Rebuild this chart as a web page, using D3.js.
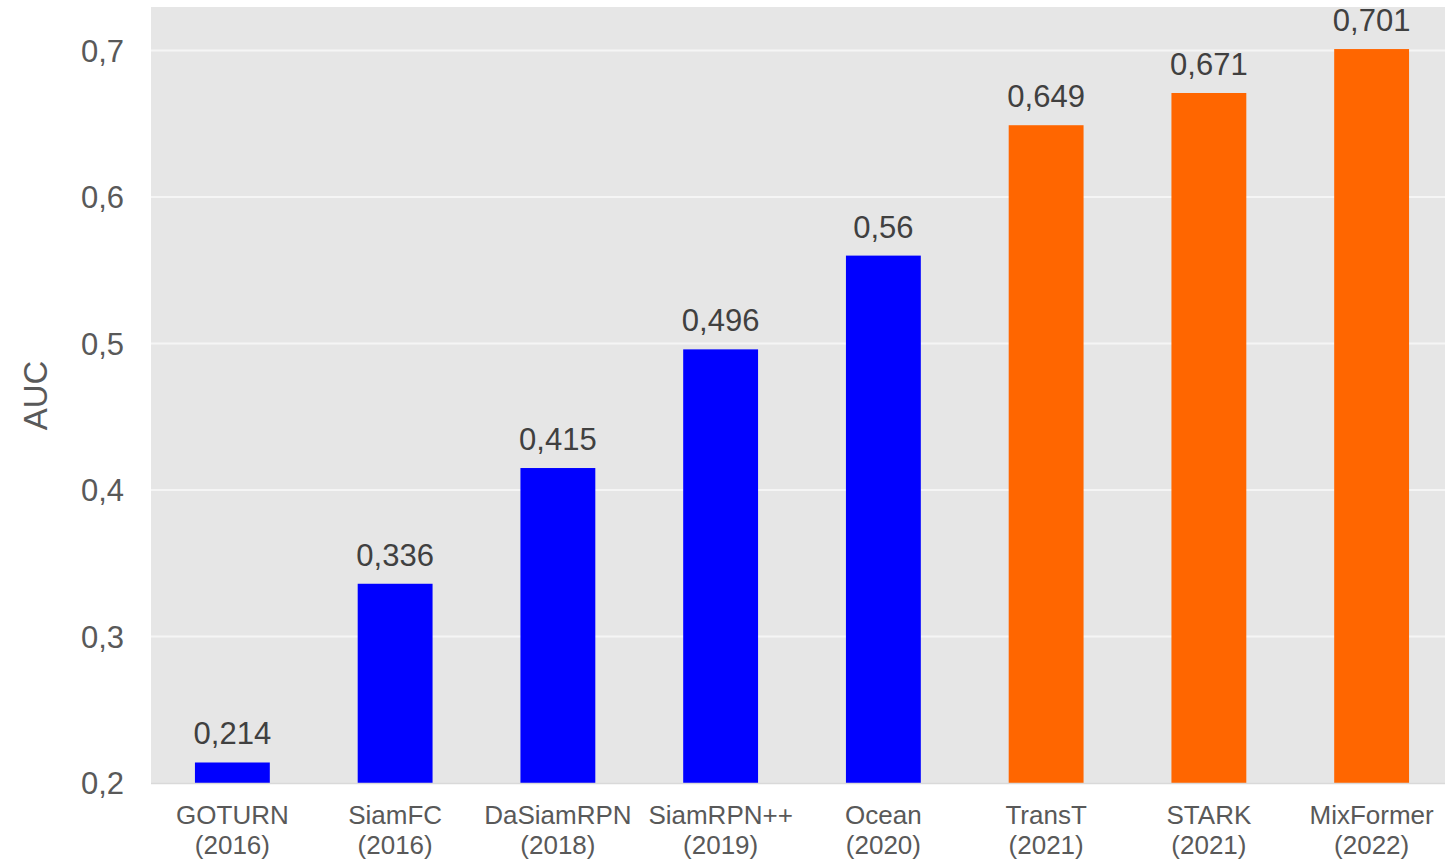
<!DOCTYPE html>
<html>
<head>
<meta charset="utf-8">
<script src="https://cdn.jsdelivr.net/npm/d3@7"></script>
<style>
  html, body { margin: 0; padding: 0; background: #fff; }
  svg { display: block; font-family: "Liberation Sans", Arial, sans-serif; }
</style>
</head>
<body>
<svg id="chart" width="1445" height="862"></svg>
<script>
// Tracker names, publication years and AUC scores
const trackers = ["GOTURN", "SiamFC", "DaSiamRPN", "SiamRPN++", "Ocean", "TransT", "STARK", "MixFormer"];
const years = ["2016", "2016", "2018", "2019", "2020", "2021", "2021", "2022"];
const auc = [0.214, 0.336, 0.415, 0.496, 0.56, 0.649, 0.671, 0.701];
const family = ["siamese", "siamese", "siamese", "siamese", "siamese", "transformer", "transformer", "transformer"];
const yTicks = [0.2, 0.3, 0.4, 0.5, 0.6, 0.7];

const fmt = v => String(v).replace(".", ",");
const colorOf = { siamese: "#0000FF", transformer: "#FF6600" };

const svg = d3.select("#chart");
const plot = { left: 151, top: 7, right: 1453, bottom: 783 };

const x = d3.scaleBand()
  .domain(trackers)
  .range([plot.left, plot.right])
  .paddingInner(0.54)
  .paddingOuter(0.27);

const y = d3.scaleLinear()
  .domain([0.2, 0.7297])
  .range([plot.bottom, plot.top]);

// Plot background
svg.append("rect")
  .attr("x", plot.left).attr("y", plot.top)
  .attr("width", 1445 - plot.left).attr("height", plot.bottom - plot.top)
  .attr("fill", "#E6E6E6");

// Horizontal gridlines
svg.append("g")
  .selectAll("line")
  .data(yTicks.slice(1))
  .join("line")
  .attr("x1", plot.left).attr("x2", 1445)
  .attr("y1", d => y(d)).attr("y2", d => y(d))
  .attr("stroke", "#F5F5F5").attr("stroke-width", 2);

// Bars
svg.append("g")
  .selectAll("rect")
  .data(trackers)
  .join("rect")
  .attr("x", d => x(d))
  .attr("width", x.bandwidth())
  .attr("y", (d, i) => y(auc[i]))
  .attr("height", (d, i) => y(0.2) - y(auc[i]))
  .attr("fill", (d, i) => colorOf[family[i]]);

// Baseline
svg.append("line")
  .attr("x1", plot.left).attr("x2", 1445)
  .attr("y1", plot.bottom + 0.5).attr("y2", plot.bottom + 0.5)
  .attr("stroke", "#D9D9D9").attr("stroke-width", 1.5);

// Value labels
svg.append("g")
  .selectAll("text")
  .data(trackers)
  .join("text")
  .attr("x", d => x(d) + x.bandwidth() / 2)
  .attr("y", (d, i) => y(auc[i]) - 18)
  .attr("text-anchor", "middle")
  .attr("font-size", 31)
  .attr("fill", "#404040")
  .text((d, i) => fmt(auc[i]));

// Y axis
const yAxis = d3.axisLeft(y).tickValues(yTicks).tickSize(0).tickPadding(0).tickFormat(fmt);
const gy = svg.append("g").attr("transform", `translate(124,0)`).call(yAxis);
gy.select(".domain").remove();
gy.selectAll("text")
  .attr("font-size", 31)
  .attr("font-family", "Liberation Sans, Arial, sans-serif")
  .attr("fill", "#595959")
  .attr("dy", "0.34em");

// X axis category labels (name + year)
const xAxis = d3.axisBottom(x).tickSize(0).tickFormat(() => "");
const gx = svg.append("g").attr("transform", `translate(0,${plot.bottom})`).call(xAxis);
gx.select(".domain").remove();
gx.selectAll(".tick").each(function(d, i) {
  const t = d3.select(this).select("text")
    .attr("font-size", 26)
    .attr("font-family", "Liberation Sans, Arial, sans-serif")
    .attr("fill", "#595959")
    .attr("y", 0).attr("dy", null);
  t.append("tspan").attr("x", 0).attr("y", 41).text(d);
  t.append("tspan").attr("x", 0).attr("y", 71).text(`(${years[i]})`);
});

// Y axis title
svg.append("text")
  .attr("transform", `translate(47,${y(0.5) + 52}) rotate(-90)`)
  .attr("text-anchor", "middle")
  .attr("font-size", 33)
  .attr("fill", "#595959")
  .text("AUC");
</script>
</body>
</html>
